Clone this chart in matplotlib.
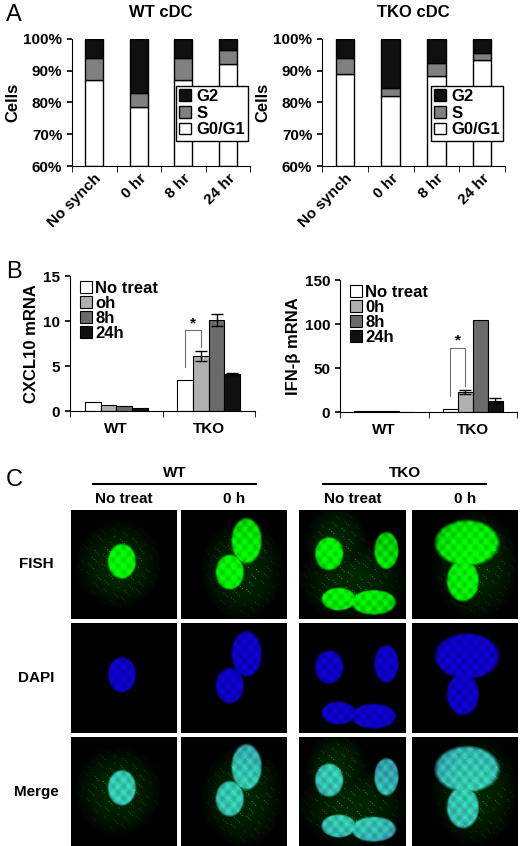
import numpy as np
import matplotlib
matplotlib.use("Agg")
import matplotlib.pyplot as plt
from matplotlib.patches import Patch

plt.rcParams["font.family"] = ["Liberation Sans", "DejaVu Sans"]
plt.rcParams["font.weight"] = "bold"

W, H = 520, 846

# ---- data ----
phase_cats = ["No synch", "0 hr", "8 hr", "24 hr"]
wt_g01 = [87, 78.5, 87, 92]
wt_s = [7, 4.5, 7, 4.5]
tko_g01 = [89, 82, 88.5, 93.5]
tko_s = [5, 2.5, 4, 2]

treat_labels = ["No treat", "oh", "8h", "24h"]
ifn_labels = ["No treat", "0h", "8h", "24h"]
treat_colors = ["white", "#b0b0b0", "#6a6a6a", "#101010"]
cxcl_wt = [1.0, 0.7, 0.5, 0.35]
cxcl_tko = [3.4, 6.1, 10.1, 4.1]
cxcl_tko_err = [0, 0.6, 0.7, 0.1]
ifn_wt = [0.6, 0.9, 0.6, 0.3]
ifn_tko = [3, 23, 105, 13]
ifn_tko_err = [0, 2, 0, 3]

# nuclei per image: (cx, cy, rx, ry) in relative coords
nuclei = {
    "wt_nt": [(0.48, 0.47, 0.14, 0.17)],
    "wt_0h": [(0.46, 0.57, 0.14, 0.17), (0.62, 0.28, 0.15, 0.22)],
    "tko_nt": [(0.28, 0.40, 0.14, 0.16), (0.82, 0.37, 0.12, 0.18),
               (0.37, 0.82, 0.17, 0.11), (0.70, 0.85, 0.22, 0.12)],
    "tko_0h": [(0.52, 0.30, 0.32, 0.22), (0.48, 0.65, 0.16, 0.20)],
}
cytoplasm = {
    "wt_nt": [(0.45, 0.5, 0.42, 0.42)],
    "wt_0h": [(0.58, 0.55, 0.4, 0.48)],
    "tko_nt": [(0.5, 0.65, 0.52, 0.38), (0.35, 0.3, 0.3, 0.35)],
    "tko_0h": [(0.6, 0.5, 0.42, 0.52)],
}


def box(x0, y0, x1, y1):
    return [x0 / W, 1 - y1 / H, (x1 - x0) / W, (y1 - y0) / H]


fig = plt.figure(figsize=(W / 100, H / 100), dpi=100)


def style(ax):
    for s in ["top", "right"]:
        ax.spines[s].set_visible(False)
    ax.tick_params(labelsize=11, width=1.2)


# ---- panel A ----
def phase_plot(rect, title, g01, s):
    ax = fig.add_axes(box(*rect))
    x = np.arange(len(phase_cats))
    top = [g + v for g, v in zip(g01, s)]
    ax.bar(x, [g - 60 for g in g01], bottom=60, width=0.4, color="white", edgecolor="black", lw=1)
    ax.bar(x, s, bottom=g01, width=0.4, color="#808080", edgecolor="black", lw=1)
    ax.bar(x, [100 - t for t in top], bottom=top, width=0.4, color="#101010", edgecolor="black", lw=1)
    ax.set_ylim(60, 100)
    ax.set_xlim(-0.5, 3.5)
    ax.set_yticks([60, 70, 80, 90, 100])
    ax.set_yticklabels([f"{v}%" for v in [60, 70, 80, 90, 100]])
    ax.set_xticks(x)
    ax.set_xticklabels(phase_cats, rotation=45, ha="right", rotation_mode="anchor")
    ax.set_xticks([-0.5, 0.5, 1.5, 2.5, 3.5], minor=True)
    ax.tick_params(axis="x", which="major", length=0)
    ax.tick_params(axis="x", which="minor", length=4)
    ax.set_ylabel("Cells", fontsize=12, fontweight="bold", labelpad=2)
    ax.set_title(title, fontsize=12, fontweight="bold", pad=16)
    style(ax)
    handles = [Patch(fc="#101010", ec="black", label="G2"),
               Patch(fc="#808080", ec="black", label="S"),
               Patch(fc="white", ec="black", label="G0/G1")]
    ax.legend(handles=handles, loc="lower right", bbox_to_anchor=(0.99, 0.2), fontsize=12,
              fancybox=False, edgecolor="black", framealpha=1, handlelength=0.7,
              handletextpad=0.3, borderpad=0.2, labelspacing=0.1, borderaxespad=0)


phase_plot((72, 39, 250, 166), "WT cDC", wt_g01, wt_s)
phase_plot((322, 39, 505, 166), "TKO cDC", tko_g01, tko_s)
fig.text(6 / W, 1 - 15 / H, "A", fontsize=17, fontweight="normal", va="center")


# ---- panel B ----
def expr_plot(rect, ylabel, labels, wt, tko, err, ymax, yt, sig_y):
    ax = fig.add_axes(box(*rect))
    w = 0.17
    for i in range(4):
        off = (i - 1.5) * w
        ax.bar(0 + off, wt[i], width=w, color=treat_colors[i], edgecolor="black", lw=0.8,
               label=labels[i])
        ax.bar(1 + off, tko[i], width=w, color=treat_colors[i], edgecolor="black", lw=0.8,
               yerr=err[i] if err[i] else None, capsize=4,
               error_kw=dict(lw=1, capthick=1, ecolor="black"))
    ax.set_ylim(0, ymax)
    ax.set_yticks(yt)
    ax.set_xlim(-0.5, 1.5)
    ax.set_xticks([0, 1])
    ax.set_xticklabels(["WT", "TKO"])
    ax.set_xticks([-0.5, 0.5, 1.5], minor=True)
    ax.tick_params(axis="x", which="major", length=0, pad=8)
    ax.tick_params(axis="x", which="minor", length=4)
    ax.set_ylabel(ylabel, fontsize=12, fontweight="bold", labelpad=3)
    style(ax)
    ax.legend(loc="upper left", bbox_to_anchor=(0.0, 1.04), fontsize=12, frameon=False,
              handlelength=0.7, handletextpad=0.2, labelspacing=0.0, borderaxespad=0.2)
    # significance bracket
    x0, x1 = 1 - 1.5 * w, 1 - 0.5 * w
    ax.plot([x0, x0, x1, x1], [tko[0] + ymax * 0.1, sig_y, sig_y, tko[1] + err[1] + ymax * 0.03],
            color="#707070", lw=0.8)
    ax.text((x0 + x1) / 2, sig_y, "*", ha="center", va="bottom", fontsize=11)


expr_plot((70, 276, 255, 411), "CXCL10 mRNA", treat_labels, cxcl_wt, cxcl_tko, cxcl_tko_err,
          15, [0, 5, 10, 15], 9)
expr_plot((340, 280, 517, 412), "IFN-β mRNA", ifn_labels, ifn_wt, ifn_tko, ifn_tko_err,
          150, [0, 50, 100, 150], 73)
fig.text(6 / W, 1 - 272 / H, "B", fontsize=17, fontweight="normal", va="center")


# ---- panel C (schematic micrographs) ----
def render(key, channel, n=120):
    yy, xx = np.mgrid[0:1:n * 1j, 0:1:n * 1j]
    cyto = np.zeros_like(xx)
    for cx, cy, rx, ry in cytoplasm[key]:
        d = ((xx - cx) / rx) ** 2 + ((yy - cy) / ry) ** 2
        cyto = np.maximum(cyto, np.clip(1 - d, 0, 1))
    phase = np.sin(xx * 413.7 + yy * 157.3) * np.sin(yy * 389.1 - xx * 211.9)
    speck = (phase > 0.93).astype(float)
    nuc = np.zeros_like(xx)
    for cx, cy, rx, ry in nuclei[key]:
        d = ((xx - cx) / rx) ** 2 + ((yy - cy) / ry) ** 2
        nuc = np.maximum(nuc, np.clip((1 - d) * 4, 0, 1))
    tex = 0.85 + 0.15 * np.sin(xx * 60) * np.cos(yy * 55)
    img = np.zeros((n, n, 3))
    if channel == "FISH":
        g = np.clip(0.15 * cyto + 0.6 * speck * cyto + 0.95 * nuc * tex, 0, 1)
        img[..., 1] = g
    elif channel == "DAPI":
        img[..., 2] = np.clip(0.9 * nuc * tex, 0, 1)
        img[..., 0] = 0.05 * nuc
    else:
        g = np.clip(0.15 * cyto + 0.6 * speck * cyto + 0.75 * nuc * tex, 0, 1)
        img[..., 1] = g
        img[..., 2] = np.clip(0.8 * nuc * tex, 0, 1)
        img[..., 0] = 0.2 * nuc
    return img


cols = [("wt_nt", 71, 177), ("wt_0h", 181, 287), ("tko_nt", 299, 406), ("tko_0h", 412, 518)]
rows = [("FISH", 510, 619), ("DAPI", 623, 733), ("Merge", 737, 846)]
for ch, y0, y1 in rows:
    fig.text(36 / W, 1 - ((y0 + y1) / 2) / H, ch, fontsize=11, ha="center", va="center")
    for key, x0, x1 in cols:
        ax = fig.add_axes(box(x0, y0, x1, y1))
        ax.imshow(render(key, ch), aspect="auto")
        ax.set_axis_off()

for label, x0, x1 in [("WT", 93, 256), ("TKO", 323, 486)]:
    fig.text((x0 + x1) / 2 / W, 1 - 473 / H, label, fontsize=11, ha="center", va="center")
    fig.add_artist(plt.Line2D([x0 / W, x1 / W], [1 - 484 / H] * 2, color="black", lw=1.5))
for (key, x0, x1), lab in zip(cols, ["No treat", "0 h", "No treat", "0 h"]):
    fig.text((x0 + x1) / 2 / W, 1 - 499 / H, lab, fontsize=11, ha="center", va="center")
fig.text(6 / W, 1 - 480 / H, "C", fontsize=17, fontweight="normal", va="center")

fig.savefig("out.png", dpi=100)
